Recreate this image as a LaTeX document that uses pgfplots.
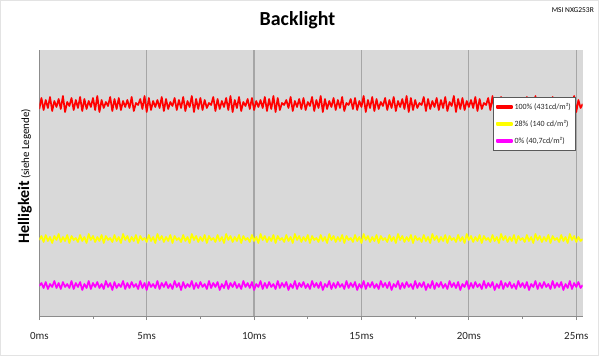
\documentclass[border=0pt]{standalone}
\usepackage{pgfplots}
\pgfplotsset{compat=1.18}
\usepackage{pgfplotstable}
\usepackage{fontspec}
\setmainfont{Carlito}
\definecolor{bgc}{HTML}{D9D9D9}
\definecolor{gridc}{HTML}{A6A6A6}
\definecolor{axc}{HTML}{8C8C8C}
\definecolor{yel}{HTML}{FFFF00}
\definecolor{mag}{HTML}{FF00FF}

% x in units of 0.1 ms
\pgfplotstableread{
x r y m
0 207 76 30
1 218 80 33
2 206 74 28
3 216 81 34
4 208 75 27
5 219 79 32
6 205 73 29
7 215 80 35
8 209 76 28
9 217 82 33
10 207 74 27
11 220 79 34
12 204 75 29
13 214 81 32
14 210 73 28
15 218 80 35
16 206 76 27
17 216 78 33
18 208 74 29
19 219 81 34
20 205 75 26
21 217 79 32
22 207 73 28
23 215 82 35
24 209 76 27
25 218 80 33
26 206 74 29
27 220 79 34
28 204 75 28
29 216 81 32
30 208 73 27
31 214 80 35
32 210 76 29
33 219 78 33
34 205 74 26
35 217 81 34
36 207 75 28
37 218 79 32
38 206 73 29
39 215 82 35
40 209 76 27
41 216 80 33
42 208 74 28
43 219 79 34
44 205 75 29
45 213 81 32
46 211 73 27
47 217 80 35
48 207 76 28
49 220 78 33
50 204 74 26
51 218 81 34
52 206 75 29
53 215 79 32
54 209 73 28
55 216 82 35
56 208 76 27
57 219 80 33
58 205 74 29
59 217 79 34
60 207 75 28
61 214 81 32
62 210 73 27
63 218 80 35
64 206 76 29
65 216 78 33
66 208 74 26
67 219 81 34
68 205 75 28
69 215 79 32
70 209 73 29
71 220 82 35
72 204 76 27
73 217 80 33
74 207 74 28
75 218 79 34
76 206 75 29
77 216 81 32
78 208 73 27
79 213 80 35
80 211 76 28
81 219 78 33
82 205 74 29
83 217 81 34
84 207 75 26
85 215 79 32
86 209 73 28
87 218 82 35
88 206 76 27
89 220 80 33
90 204 74 29
91 216 79 34
92 208 75 28
93 219 81 32
94 205 73 27
95 214 80 35
96 210 76 29
97 217 78 33
98 207 74 28
99 218 81 34
100 206 75 26
101 215 79 32
102 209 73 29
103 216 82 35
104 208 76 27
105 219 80 33
106 205 74 28
107 217 79 34
108 207 75 29
109 220 81 32
110 204 73 27
111 218 80 35
112 206 76 28
113 213 78 33
114 211 74 29
115 216 81 34
116 208 75 26
117 219 79 32
118 205 73 28
119 215 82 35
120 209 76 27
121 217 80 33
122 207 74 29
123 218 79 34
124 206 75 28
125 214 81 32
126 210 73 27
127 219 80 35
128 205 76 29
129 216 78 33
130 208 74 28
131 220 81 34
132 204 75 26
133 217 79 32
134 207 73 29
135 215 82 35
136 209 76 27
137 218 80 33
138 206 74 28
139 216 79 34
140 208 75 29
141 219 81 32
142 205 73 27
143 213 80 35
144 211 76 28
145 217 78 33
146 207 74 29
147 218 81 34
148 206 75 26
149 215 79 32
150 209 73 28
151 220 82 35
152 204 76 27
153 216 80 33
154 208 74 29
155 219 79 34
156 205 75 28
157 217 81 32
158 207 73 27
159 214 80 35
160 210 76 29
161 218 78 33
162 206 74 28
163 216 81 34
164 208 75 26
165 219 79 32
166 205 73 29
167 215 82 35
168 209 76 27
169 217 80 33
170 207 74 28
171 220 79 34
172 204 75 29
173 218 81 32
174 206 73 27
175 216 80 35
176 208 76 28
177 213 78 33
178 211 74 29
179 219 81 34
180 205 75 26
181 217 79 32
182 207 73 28
183 215 82 35
184 209 76 27
185 218 80 33
186 206 74 29
187 216 79 34
188 208 75 28
189 219 81 32
190 205 73 27
191 214 80 35
192 210 76 29
193 220 78 33
194 204 74 28
195 217 81 34
196 207 75 26
197 218 79 32
198 206 73 29
199 215 82 35
200 209 76 27
201 216 80 33
202 208 74 28
203 219 79 34
204 205 75 29
205 217 81 32
206 207 73 27
207 213 80 35
208 211 76 28
209 218 78 33
210 206 74 29
211 220 81 34
212 204 75 26
213 216 79 32
214 208 73 28
215 219 82 35
216 205 76 27
217 215 80 33
218 209 74 29
219 217 79 34
220 207 75 28
221 218 81 32
222 206 73 27
223 214 80 35
224 210 76 29
225 216 78 33
226 208 74 28
227 219 81 34
228 205 75 26
229 217 79 32
230 207 73 29
231 220 82 35
232 204 76 27
233 215 80 33
234 209 74 28
235 218 79 34
236 206 75 29
237 216 81 32
238 208 73 27
239 219 80 35
240 205 76 28
241 213 78 33
242 211 74 29
243 217 81 34
244 207 75 26
245 218 79 32
246 206 73 28
247 215 82 35
248 209 76 27
249 220 80 33
250 204 74 29
251 216 79 34
252 208 75 28
253 212 77 31
}\datatable

\begin{document}
\begin{tikzpicture}[x=1bp,y=1bp]
\useasboundingbox (0,0) rectangle (600,356);
\draw[draw=gray!22, line width=1.2bp] (0.8,0.8) rectangle (598.5,355.2);
\begin{axis}[
  at={(39.3bp,40bp)}, anchor=south west,
  scale only axis, width=543.4bp, height=266bp,
  xmin=0, xmax=253, ymin=0, ymax=266,
  axis background/.style={fill=bgc},
  axis x line*=bottom, axis y line*=left,
  axis line style={draw=axc, line width=1bp, -},
  ytick=\empty,
  xtick={0,50,100,150,200,250},
  minor xtick={25,75,125,175,225},
  xticklabels={0ms,5ms,10ms,15ms,20ms,25ms},
  xmajorgrids,
  major grid style={draw=gridc, line width=1.2bp},
  tick align=outside,
  major tick length=4bp, minor tick length=3bp,
  every tick/.style={draw=axc, line width=0.8bp},
  xticklabel style={font=\fontsize{11}{12}\selectfont, text=black!85, anchor=base, yshift=-19bp, inner sep=0pt},
  legend style={at={(axis cs:211,219)}, anchor=north west,
    draw=black!65, fill=white, line width=0.8bp,
    font=\fontsize{8}{9}\selectfont, text=black!85,
    inner xsep=3bp, inner ysep=4bp, row sep=5.2bp,
    cells={anchor=west}},
  legend image code/.code={\fill[#1] (0bp,-1bp) rectangle (15bp,1bp);},
  clip=true,
]
\addplot[red, line width=1.7bp, line join=round] table[x=x, y=r] {\datatable};
\addplot[yel, line width=1.7bp, line join=round] table[x=x, y=y] {\datatable};
\addplot[mag, line width=1.7bp, line join=round] table[x=x, y=m] {\datatable};
\legend{{100\% (431cd/m²)}, {28\% (140 cd/m²)}, {0\% (40{,}7cd/m²)}}
\end{axis}
\node[anchor=base, font=\bfseries\fontsize{20}{22}\selectfont] at (297.5,331) {Backlight};
\node[anchor=base east, font=\fontsize{7.5}{8}\selectfont, inner sep=0pt] at (594,344) {MSI NXG253R};
\node[rotate=90, anchor=base, inner sep=0pt] at (29,180) {{\bfseries\fontsize{16}{18}\selectfont Helligkeit} {\fontsize{11}{12}\selectfont (siehe Legende)}};
\end{tikzpicture}
\end{document}
